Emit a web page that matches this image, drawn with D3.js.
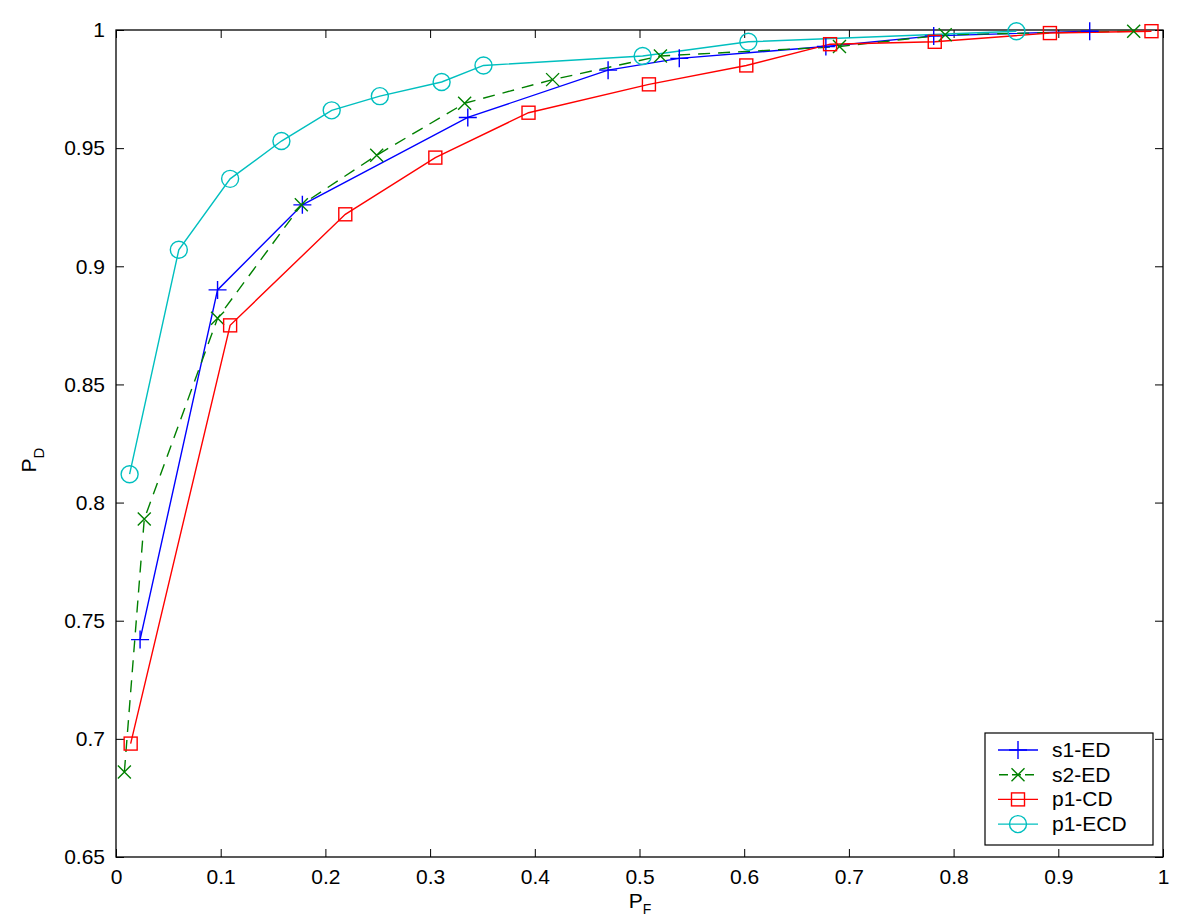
<!DOCTYPE html>
<html><head><meta charset="utf-8">
<script src="https://cdn.jsdelivr.net/npm/d3@7"></script>
<style>body{margin:0;background:#fff;} text{font-family:"Liberation Sans",Arial,sans-serif;}</style>
</head><body>
<svg id="c" width="1200" height="921"></svg>
<script>
const seriesNames = ["s1-ED","s2-ED","p1-CD","p1-ECD"];
const s1x = [0.023,0.097,0.178,0.336,0.470,0.538,0.678,0.781,0.930];
const s1y = [0.742,0.890,0.926,0.963,0.983,0.988,0.993,0.9975,0.9995];
const s2x = [0.008,0.027,0.097,0.177,0.249,0.333,0.417,0.520,0.691,0.792,0.972];
const s2y = [0.686,0.793,0.878,0.926,0.947,0.969,0.979,0.989,0.993,0.998,0.9995];
const p1x = [0.014,0.109,0.219,0.305,0.394,0.509,0.602,0.682,0.782,0.892,0.989];
const p1y = [0.698,0.875,0.922,0.946,0.965,0.977,0.985,0.994,0.995,0.9987,0.9995];
const e1x = [0.013,0.060,0.109,0.158,0.206,0.252,0.311,0.351,0.503,0.604,0.860];
const e1y = [0.812,0.907,0.937,0.953,0.966,0.972,0.978,0.985,0.989,0.995,0.9995];
const xTicks = [0,0.1,0.2,0.3,0.4,0.5,0.6,0.7,0.8,0.9,1];
const yTicks = [0.65,0.7,0.75,0.8,0.85,0.9,0.95,1];

const colors = ["#0000ff","#008000","#ff0000","#00bfbf"];
const markers = ["plus","x","square","circle"];
const dashes = [null,"12,8",null,null];
const data = [[s1x,s1y],[s2x,s2y],[p1x,p1y],[e1x,e1y]];

const L=116,R=1163,T=30,B=857;
const svg=d3.select("#c");
const x=d3.scaleLinear().domain([0,1]).range([L,R]);
const y=d3.scaleLinear().domain([0.65,1]).range([B,T]);
const clipId="clip";
svg.append("defs").append("clipPath").attr("id",clipId).append("rect").attr("x",L-12).attr("y",T-12).attr("width",R-L+24).attr("height",B-T+24);

const fmt=d=>d===0?"0":d===1?"1":String(d);
const gx=svg.append("g").attr("transform",`translate(0,${B})`).call(d3.axisBottom(x).tickValues(xTicks).tickSizeInner(-8).tickSizeOuter(0).tickPadding(12).tickFormat(fmt));
const gxt=svg.append("g").attr("transform",`translate(0,${T})`).call(d3.axisTop(x).tickValues(xTicks).tickSizeInner(-8).tickSizeOuter(0).tickFormat(""));
const gy=svg.append("g").attr("transform",`translate(${L},0)`).call(d3.axisLeft(y).tickValues(yTicks).tickSizeInner(-8).tickSizeOuter(0).tickPadding(11).tickFormat(fmt));
const gyr=svg.append("g").attr("transform",`translate(${R},0)`).call(d3.axisRight(y).tickValues(yTicks).tickSizeInner(-8).tickSizeOuter(0).tickFormat(""));
[gx,gxt,gy,gyr].forEach(g=>{g.select(".domain").remove();g.selectAll("line").attr("stroke","#000").attr("stroke-width",1);g.selectAll("text").attr("font-size",21).attr("fill","#000").attr("font-family","Liberation Sans, Arial, sans-serif");});
svg.append("rect").attr("x",L).attr("y",T).attr("width",R-L).attr("height",B-T).attr("fill","none").attr("stroke","#000").attr("stroke-width",1.3);

function drawMarker(g,type,cx,cy,color){
  if(type==="plus"){g.append("path").attr("d",`M${cx-9},${cy}H${cx+9}M${cx},${cy-9}V${cy+9}`).attr("stroke",color).attr("stroke-width",1.4).attr("fill","none");}
  else if(type==="x"){const s=6.5;g.append("path").attr("d",`M${cx-s},${cy-s}L${cx+s},${cy+s}M${cx-s},${cy+s}L${cx+s},${cy-s}`).attr("stroke",color).attr("stroke-width",1.4).attr("fill","none");}
  else if(type==="square"){g.append("rect").attr("x",cx-6.5).attr("y",cy-6.5).attr("width",13).attr("height",13).attr("stroke",color).attr("stroke-width",1.4).attr("fill","none");}
  else {g.append("circle").attr("cx",cx).attr("cy",cy).attr("r",8.5).attr("stroke",color).attr("stroke-width",1.4).attr("fill","none");}
}

const plot=svg.append("g").attr("clip-path",`url(#${clipId})`);
const line=d3.line().x(d=>x(d[0])).y(d=>y(d[1]));
data.forEach((s,i)=>{
  const pts=s[0].map((v,j)=>[v,s[1][j]]);
  const p=plot.append("path").datum(pts).attr("d",line).attr("fill","none").attr("stroke",colors[i]).attr("stroke-width",1.4);
  if(dashes[i]) p.attr("stroke-dasharray",dashes[i]);
});
data.forEach((s,i)=>{
  const g=plot.append("g");
  s[0].forEach((v,j)=>drawMarker(g,markers[i],x(v),y(s[1][j]),colors[i]));
});

const xl=svg.append("text").attr("x",640).attr("y",908).attr("font-size",21).attr("text-anchor","middle");
xl.append("tspan").text("P");
xl.append("tspan").attr("dy",6).attr("font-size",14).text("F");
const yl=svg.append("text").attr("transform","translate(36,460) rotate(-90)").attr("font-size",21).attr("text-anchor","middle");
yl.append("tspan").text("P");
yl.append("tspan").attr("dy",8).attr("font-size",15).text("D");

const lg=svg.append("g");
lg.append("rect").attr("x",985).attr("y",733).attr("width",168).attr("height",112).attr("fill","#fff").attr("stroke","#000").attr("stroke-width",1.2);
seriesNames.forEach((n,i)=>{
  const yy=750+i*24.7;
  const l=lg.append("line").attr("x1",998).attr("x2",1038).attr("y1",yy).attr("y2",yy).attr("stroke",colors[i]).attr("stroke-width",1.4);
  if(dashes[i]) l.attr("stroke-dasharray","9,4").attr("x1",999);
  drawMarker(lg,markers[i],1018,yy,colors[i]);
  lg.append("text").attr("x",1052).attr("y",yy+7).attr("font-size",21).text(n);
});
</script>
</body></html>
